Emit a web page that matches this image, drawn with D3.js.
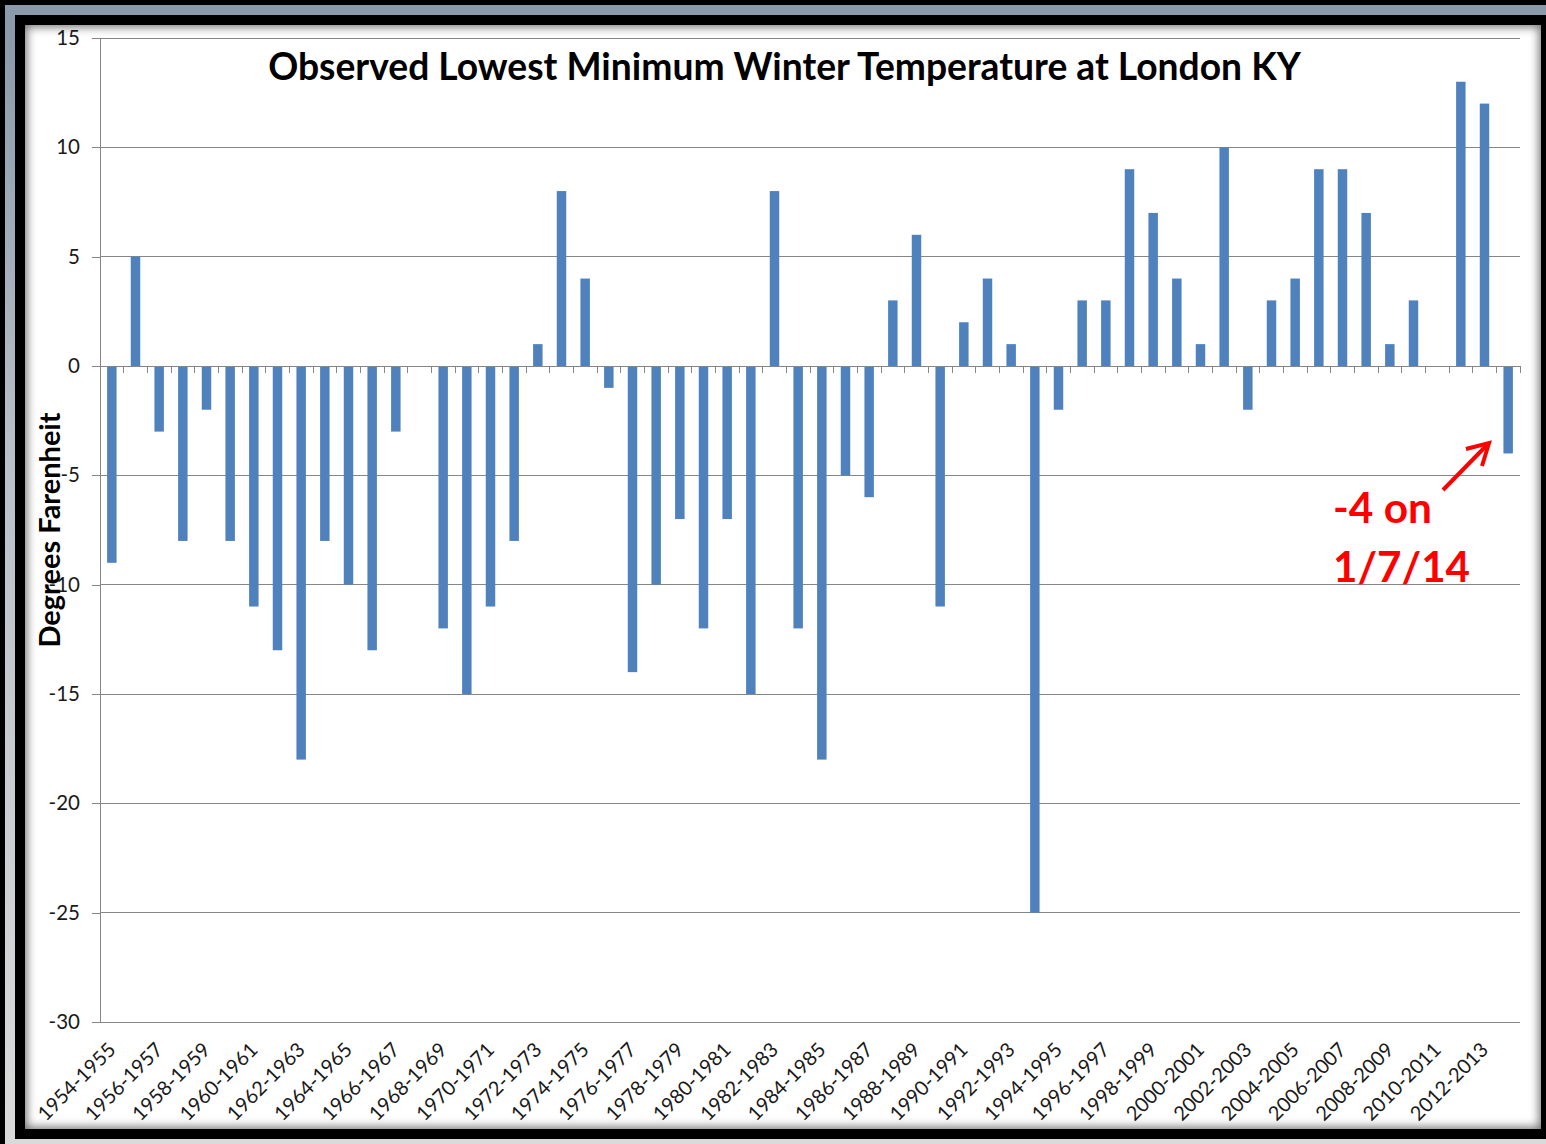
<!DOCTYPE html>
<html>
<head>
<meta charset="utf-8">
<script src="https://cdn.jsdelivr.net/npm/d3@7"></script>
<style>
  html, body { margin: 0; padding: 0; background: #000; width: 1546px; height: 1144px; overflow: hidden; }
  .band { position: absolute; left: 5px; top: 5px; width: 1541px; height: 1139px;
          background: linear-gradient(#8a9aab, #8a9aab 2%, #b9c0c8 40%, #dadada); }
  .blk { position: absolute; left: 15px; top: 15px; width: 1531px; height: 1124px; background: #000; }
  .wht { position: absolute; left: 25px; top: 25px; width: 1516px; height: 1104px; background: #fff;
         box-shadow: inset 0 0 10px 2px rgba(0,0,0,0.55); }
  svg { position: absolute; left: 0; top: 0; }
</style>
</head>
<body>
<div class="band"></div>
<div class="blk"></div>
<div class="wht"></div>
<svg id="chart" width="1546" height="1144"></svg>
<script>
// ---- data ----
const categories = [
  "1954-1955","1955-1956","1956-1957","1957-1958","1958-1959","1959-1960","1960-1961","1961-1962",
  "1962-1963","1963-1964","1964-1965","1965-1966","1966-1967","1967-1968","1968-1969","1969-1970",
  "1970-1971","1971-1972","1972-1973","1973-1974","1974-1975","1975-1976","1976-1977","1977-1978",
  "1978-1979","1979-1980","1980-1981","1981-1982","1982-1983","1983-1984","1984-1985","1985-1986",
  "1986-1987","1987-1988","1988-1989","1989-1990","1990-1991","1991-1992","1992-1993","1993-1994",
  "1994-1995","1995-1996","1996-1997","1997-1998","1998-1999","1999-2000","2000-2001","2001-2002",
  "2002-2003","2003-2004","2004-2005","2005-2006","2006-2007","2007-2008","2008-2009","2009-2010",
  "2010-2011","2011-2012","2012-2013","2013-2014"
];
const minTemps = [
  -9, 5, -3, -8, -2, -8, -11, -13,
  -18, -8, -10, -13, -3, null, -12, -15,
  -11, -8, 1, 8, 4, -1, -14, -10,
  -7, -12, -7, -15, 8, -12, -18, -5,
  -6, 3, 6, -11, 2, 4, 1, -25,
  -2, 3, 3, 9, 7, 4, 1, 10,
  -2, 3, 4, 9, 9, 7, 1, 3,
  null, 13, 12, -4
];
const xTickLabels = categories.filter((d, i) => i % 2 === 0 && i < 59);
const yTicks = [15, 10, 5, 0, -5, -10, -15, -20, -25, -30];
const titleText = "Observed Lowest Minimum Winter Temperature at London KY";
const yLabelText = "Degrees Farenheit";
const noteLines = ["-4 on", "1/7/14"];

// ---- chart ----
const svg = d3.select("#chart");
const font = "Lato, 'Open Sans', sans-serif";
const L = 100, R = 1520, T = 38, B = 1022;

const x = d3.scaleBand().domain(categories).range([L, R]).paddingInner(0.6).paddingOuter(0.3);
const y = d3.scaleLinear().domain([-30, 15]).range([B, T]);

function fit(sel, target) {
  const n = sel.node();
  const fs = parseFloat(sel.attr("font-size"));
  const w = n.getComputedTextLength();
  sel.attr("font-size", (fs * target / w).toFixed(2));
}

// gridlines
svg.append("g").selectAll("line").data(yTicks).join("line")
  .attr("x1", L).attr("x2", R).attr("y1", d => y(d)).attr("y2", d => y(d))
  .attr("stroke", "#868686").attr("stroke-width", 1).attr("shape-rendering", "crispEdges");

// y axis
const yAxis = svg.append("g").attr("transform", `translate(${L},0)`)
  .call(d3.axisLeft(y).tickValues(yTicks).tickSize(8).tickPadding(12).tickFormat(d => String(d)));
yAxis.select(".domain").attr("stroke", "#868686").attr("shape-rendering", "crispEdges");
yAxis.selectAll(".tick line").attr("stroke", "#868686").attr("shape-rendering", "crispEdges");
yAxis.selectAll(".tick text").attr("font-family", font).attr("font-size", 20.5).attr("fill", "#1a1a1a");

// bars
const data = categories.map((c, i) => ({ c, v: minTemps[i] })).filter(d => d.v !== null);
svg.append("g").selectAll("rect").data(data).join("rect")
  .attr("x", d => x(d.c)).attr("width", x.bandwidth())
  .attr("y", d => y(Math.max(0, d.v)))
  .attr("height", d => Math.abs(y(d.v) - y(0)))
  .attr("fill", "#4f81bd");

// category axis at zero with boundary ticks
const y0 = y(0);
const g0 = svg.append("g");
g0.append("line").attr("x1", L).attr("x2", R).attr("y1", y0).attr("y2", y0)
  .attr("stroke", "#868686").attr("shape-rendering", "crispEdges");
const bounds = d3.range(categories.length + 1).map(i => x.range()[0] + i * x.step());
g0.selectAll("line.tk").data(bounds).join("line").attr("class", "tk")
  .attr("x1", d => d).attr("x2", d => d).attr("y1", y0).attr("y2", y0 + 7)
  .attr("stroke", "#868686").attr("shape-rendering", "crispEdges");

// x labels (rotated) at bottom
svg.append("g").selectAll("text").data(xTickLabels).join("text")
  .attr("transform", d => `translate(${x(d) + x.bandwidth() / 2 + 5},1051) rotate(-45)`)
  .attr("text-anchor", "end").attr("font-family", font).attr("font-size", 20)
  .attr("fill", "#1a1a1a").text(d => d);

// title
const title = svg.append("text").attr("x", 784.5).attr("y", 80).attr("text-anchor", "middle")
  .attr("font-family", font).attr("font-weight", "bold").attr("font-size", 32)
  .attr("fill", "#000").text(titleText);
fit(title, 1033);

// y label
const yl = svg.append("text").attr("transform", "translate(60,530) rotate(-90)")
  .attr("text-anchor", "middle").attr("font-family", font).attr("font-weight", "bold")
  .attr("font-size", 28).attr("fill", "#000").text(yLabelText);
fit(yl, 235);

// annotation
const n1 = svg.append("text").attr("x", 1333).attr("y", 523).attr("font-family", font)
  .attr("font-weight", "bold").attr("font-size", 44).attr("fill", "#ff0000").text(noteLines[0]);
fit(n1, 99);
const n2 = svg.append("text").attr("x", 1333).attr("y", 582).attr("font-family", font)
  .attr("font-weight", "bold").attr("font-size", 44).attr("fill", "#ff0000").text(noteLines[1]);
fit(n2, 137);

// arrow
const ag = svg.append("g").attr("stroke", "#ff0000").attr("stroke-width", 4)
  .attr("fill", "none").attr("stroke-linecap", "butt");
ag.append("line").attr("x1", 1443).attr("y1", 490).attr("x2", 1488).attr("y2", 444);
ag.append("polyline").attr("points", "1466,449 1489,443 1482,466").attr("stroke-linejoin", "miter");
</script>
</body>
</html>
